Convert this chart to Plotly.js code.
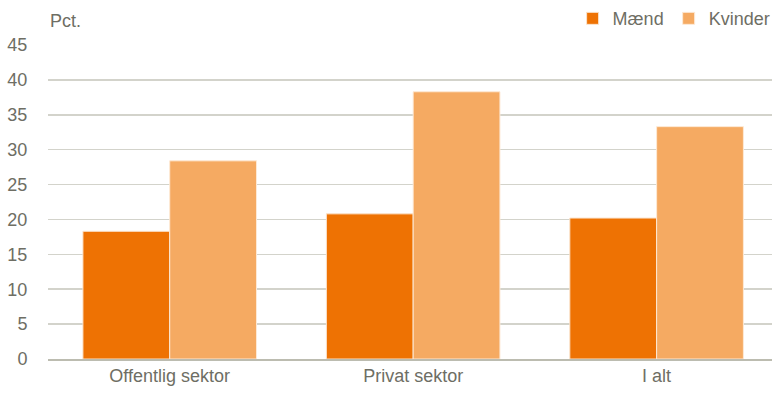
<!DOCTYPE html>
<html><head><meta charset="utf-8">
<script src="https://cdn.plot.ly/plotly-3.0.1.min.js"></script>
<style>html,body{margin:0;padding:0;background:#fff}#c{width:776px;height:399px}</style>
</head><body><div id="c"></div>
<script>
const categories = ["Offentlig sektor", "Privat sektor", "I alt"];
const maend = [18.3, 20.8, 20.2];
const kvinder = [28.4, 38.3, 33.3];
const yTicks = [0, 5, 10, 15, 20, 25, 30, 35, 40, 45];

const font = "'Liberation Sans', Arial, sans-serif";
const txt = "#6e6e64";

const traces = [
  {type: "bar", name: "Mænd", x: categories, y: maend,
   marker: {color: "#ee7203", line: {color: "#fbe3cc", width: 1}}},
  {type: "bar", name: "Kvinder", x: categories, y: kvinder,
   marker: {color: "#f5aa62", line: {color: "#fde9d5", width: 1}}}
];

const layout = {
  width: 776, height: 399,
  margin: {l: 48, r: 0, t: 44, b: 40},
  paper_bgcolor: "#fff", plot_bgcolor: "#fff",
  font: {family: font, size: 18, color: txt},
  barmode: "group", bargap: 0.287, bargroupgap: 0,
  showlegend: true,
  legend: {orientation: "h", x: 1.005, xanchor: "right", y: 1.025, yanchor: "bottom",
           font: {family: font, size: 18, color: txt}, traceorder: "normal",
           itemwidth: 30, bgcolor: "rgba(0,0,0,0)"},
  xaxis: {showgrid: false, showline: true, linecolor: "#bcbcb0", linewidth: 1.5,
          range: [-0.5, 2.474],
          ticks: "", tickfont: {family: font, size: 18, color: txt}, automargin: false},
  yaxis: {range: [0, 45], tickvals: yTicks, showgrid: true, gridcolor: "#d3d3cb", gridwidth: 1.5,
          zeroline: false, ticks: "outside", ticklen: 16, tickcolor: "rgba(0,0,0,0)",
          tickfont: {family: font, size: 18, color: txt}, automargin: false, fixedrange: true},
  annotations: [{text: "Pct.", xref: "paper", yref: "paper", x: 0, y: 1, xanchor: "left",
                 yanchor: "bottom", yshift: 12, showarrow: false,
                 font: {family: font, size: 18, color: txt}}]
};
Plotly.newPlot("c", traces, layout, {displayModeBar: false, staticPlot: true});
</script></body></html>
